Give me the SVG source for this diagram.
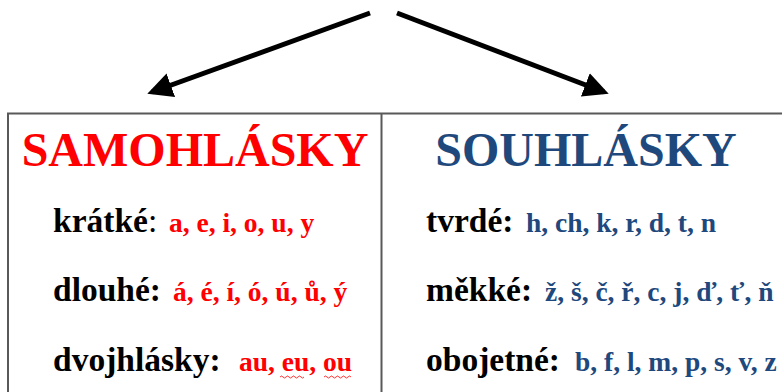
<svg xmlns="http://www.w3.org/2000/svg" width="782" height="392" viewBox="0 0 782 392">
<style>
  text { font-family: "Liberation Serif", "Times New Roman", serif; font-weight: bold; }
  .title { font-size: 48px; }
  .lbl { font-size: 33.5px; fill: #000; }
  .val { font-size: 27.5px; }
  .red { fill: #FF0000; }
  .blue { fill: #1F497D; }
  .box { fill: none; stroke: #595959; stroke-width: 2; }
  .arrow { stroke: #000; stroke-width: 5; fill: none; }
  .squig { stroke: #FF0000; stroke-width: 0.8; fill: none; }
</style>
<defs>
  <marker id="ah" markerWidth="5" markerHeight="5" refX="4" refY="2.5" orient="auto" markerUnits="strokeWidth">
    <path d="M0,0 L5,2.5 L0,5 Z" fill="#000"/>
  </marker>
</defs>
<rect width="782" height="392" fill="#fff"/>
<g id="connectors">
  <line class="arrow" x1="370" y1="13" x2="152" y2="92" marker-end="url(#ah)"/>
  <line class="arrow" x1="397" y1="13" x2="604" y2="92" marker-end="url(#ah)"/>
</g>
<g id="table">
  <path class="box" d="M8,392 L8,113.5 L790,113.5 M381.5,113.5 L381.5,392"/>
</g>
<g id="samohlasky">
  <text class="title red" x="195" y="166" text-anchor="middle">SAMOHLÁSKY</text>
  <text class="lbl" x="53" y="232">krátké<tspan font-weight="normal">:</tspan></text>
  <text class="val red" x="169" y="232">a, e, i, o, u, y</text>
  <text class="lbl" x="53" y="301">dlouhé:</text>
  <text class="val red" x="173" y="301">á, é, í, ó, ú, ů, ý</text>
  <text class="lbl" x="53" y="371">dvojhlásky:</text>
  <text class="val red" x="239" y="371">au, eu, ou</text>
  <path class="squig" d="M280,377 q1.5,-2 3,0 t3,0 t3,0 t3,0 t3,0 t3,0 t3,0 t3,0"/>
  <path class="squig" d="M324,377 q1.5,-2 3,0 t3,0 t3,0 t3,0 t3,0 t3,0 t3,0 t3,0 t3,0"/>
</g>
<g id="souhlasky">
  <text class="title blue" x="586" y="166" text-anchor="middle">SOUHLÁSKY</text>
  <text class="lbl" x="426" y="232">tvrdé:</text>
  <text class="val blue" x="526" y="232">h, ch, k, r, d, t, n</text>
  <text class="lbl" x="426" y="301">měkké:</text>
  <text class="val blue" x="545" y="301">ž, š, č, ř, c, j, ď, ť, ň</text>
  <text class="lbl" x="426" y="371">obojetné:</text>
  <text class="val blue" x="575" y="371">b, f, l, m, p, s, v, z</text>
</g>
</svg>
